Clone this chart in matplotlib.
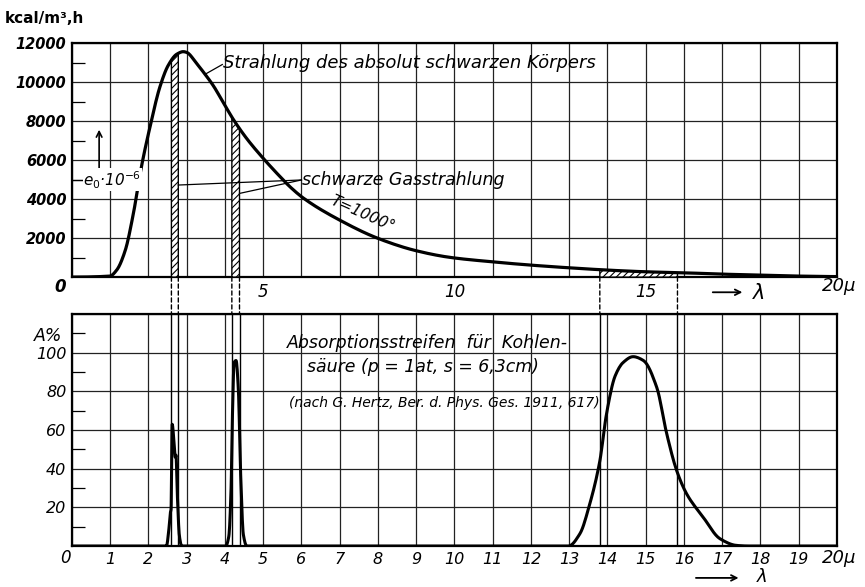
import numpy as np
import matplotlib
matplotlib.use("Agg")
import matplotlib.pyplot as plt
from matplotlib.patches import ConnectionPatch

# Strahlung des schwarzen Koerpers, T = 1000 grad
lam_bb = [0, 0.99, 1.17, 1.39, 1.60, 1.82, 2.04, 2.30, 2.52, 2.74, 2.91, 3.0, 3.26,
          3.48, 3.69, 4.0, 4.22, 4.57, 5.0, 5.44, 5.7, 6.05, 7.0, 8.0, 9.0, 9.88,
          10.97, 11.98, 12.98, 13.98, 14.98, 15.98, 17.0, 18.0, 19.0, 20.0]
e_bb = [0, 50, 360, 1350, 3200, 5700, 7700, 9760, 10870, 11430, 11560, 11520, 10950,
        10400, 9830, 8800, 8080, 7100, 6090, 5150, 4630, 4050, 2920, 1985, 1350, 1010,
        785, 615, 477, 360, 272, 220, 150, 100, 50, 25]

# Absorption CO2 in %
lam_co2 = [0, 2.47, 2.53, 2.57, 2.59, 2.62, 2.67, 2.70, 2.72, 2.75, 2.81, 2.87,
           4.02, 4.10, 4.16, 4.19, 4.24, 4.29, 4.35, 4.41, 4.48, 4.57,
           12.98, 13.28, 13.54, 13.8, 13.98, 14.2, 14.41, 14.67, 14.94, 15.29,
           15.55, 15.81, 16.07, 16.5, 16.94, 17.38, 17.7, 20]
a_co2 = [0, 0, 8, 17, 19, 63, 53, 46, 47, 29, 5, 0,
         0, 5, 30, 63, 95, 96, 81, 37, 6, 0,
         0, 6.4, 22, 44, 69, 88, 95, 98, 96, 82,
         58, 39, 27, 15, 3.8, 0.3, 0, 0]

# Streifen (schwarze Gasstrahlung)
band_lo = [2.60, 4.18, 13.8]
band_hi = [2.78, 4.38, 15.83]

top_ylabels = [0, 2000, 4000, 6000, 8000, 10000, 12000]
bot_ylabels = [20, 40, 60, 80, 100]


def pchip(x, y, n=12):
    x = np.asarray(x, float)
    y = np.asarray(y, float)
    h = np.diff(x)
    d = np.diff(y) / h
    m = np.zeros_like(y)
    for k in range(1, len(x) - 1):
        if d[k - 1] * d[k] > 0:
            w1 = 2 * h[k] + h[k - 1]
            w2 = h[k] + 2 * h[k - 1]
            m[k] = (w1 + w2) / (w1 / d[k - 1] + w2 / d[k])
    xs, ys = [], []
    for k in range(len(x) - 1):
        t = np.linspace(0, 1, n, endpoint=False)
        h00 = 2 * t**3 - 3 * t**2 + 1
        h10 = t**3 - 2 * t**2 + t
        h01 = -2 * t**3 + 3 * t**2
        h11 = t**3 - t**2
        xs.append(x[k] + t * h[k])
        ys.append(h00 * y[k] + h10 * h[k] * m[k] + h01 * y[k + 1] + h11 * h[k] * m[k + 1])
    xs.append([x[-1]])
    ys.append([y[-1]])
    return np.concatenate(xs), np.concatenate(ys)


plt.rcParams["font.family"] = ["DejaVu Sans"]
plt.rcParams["hatch.linewidth"] = 0.8
plt.rcParams["mathtext.fontset"] = "dejavusans"

fig = plt.figure(figsize=(8.65, 5.87), dpi=100)
ax1 = fig.add_axes([0.0832, 0.528, 0.8844, 0.3986])
ax2 = fig.add_axes([0.0832, 0.0698, 0.8844, 0.395])

grid_kw = dict(color="#222222", lw=0.9)

# ---- oben: schwarzer Koerper
bx, by = pchip(lam_bb, e_bb)
ax1.set_xlim(0, 20)
ax1.set_ylim(0, 12000)
ax1.set_xticks(range(21))
ax1.set_xticklabels(["5" if i == 5 else "10" if i == 10 else "15" if i == 15 else ""
                     for i in range(21)], style="italic", fontsize=12)
ax1.set_yticks(top_ylabels[1:])
ax1.set_yticklabels([str(v) for v in top_ylabels[1:]], style="italic",
                    fontweight="bold", fontsize=10.5)
ax1.set_yticks(range(1000, 12000, 2000), minor=True)
ax1.tick_params(axis="x", length=0, pad=4)
ax1.tick_params(axis="y", which="major", length=0, pad=4)
ax1.tick_params(axis="y", which="minor", direction="in", length=9, width=0.9)
ax1.grid(True, which="major", **grid_kw)
for s in ax1.spines.values():
    s.set_linewidth(1.6)

for lo, hi in zip(band_lo, band_hi):
    xs = np.linspace(lo, hi, 30)
    ax1.fill_between(xs, 0, np.interp(xs, bx, by), facecolor="white",
                     edgecolor="black", hatch="/////", lw=1.0, zorder=3)
ax1.plot(bx, by, color="black", lw=2.3, zorder=4, solid_capstyle="round")

ax1.text(-0.31, -520, "0", ha="center", va="center", style="italic",
         fontweight="bold", fontsize=12, clip_on=False)
ax1.text(19.6, -480, "20\u00b5", ha="left", va="center", style="italic",
         fontsize=13, clip_on=False)
ax1.annotate("", xy=(17.6, -780), xytext=(16.68, -780),
             arrowprops=dict(arrowstyle="->", lw=1.3, color="black"),
             annotation_clip=False)
ax1.text(17.8, -800, "\u03bb", ha="left", va="center", style="italic",
         fontsize=15, clip_on=False)

ax1.text(3.95, 11000, "Strahlung des absolut schwarzen K\u00f6rpers", style="italic",
         fontsize=13, ha="left", va="center", zorder=5)
ax1.plot([3.48, 3.93], [10400, 10900], color="black", lw=0.9, zorder=5)
ax1.text(6.02, 4980, "schwarze Gasstrahlung", style="italic", fontsize=12.5,
         ha="left", va="center", zorder=5)
ax1.plot([6.0, 2.78], [4980, 4720], color="black", lw=0.9, zorder=5)
ax1.plot([6.0, 4.38], [4980, 4290], color="black", lw=0.9, zorder=5)
ax1.text(7.6, 3250, "T=1000\u00b0", style="italic", fontsize=11, rotation=-24,
         ha="center", va="center", zorder=5)
ax1.text(0.3, 4980, "$e_0$\u00b710$^{-6}$", style="italic", fontsize=11,
         ha="left", va="center", zorder=5,
         bbox=dict(facecolor="white", edgecolor="none", pad=0.5))
ax1.plot([0, 0.28], [4980, 4980], color="black", lw=0.9)
ax1.annotate("", xy=(0.71, 7700), xytext=(0.71, 5450),
             arrowprops=dict(arrowstyle="->", lw=1.2, color="black"))

fig.text(0.006, 0.969, "kcal/m\u00b3,h", fontweight="bold", fontsize=11,
         ha="left", va="center")

# ---- unten: Absorption
ax2.set_xlim(0, 20)
ax2.set_ylim(0, 120)
ax2.set_xticks(range(21))
ax2.set_xticklabels([str(i) if 0 < i < 20 else "" for i in range(21)],
                    style="italic", fontsize=11.5)
ax2.set_yticks(bot_ylabels + [120])
ax2.set_yticklabels([str(v) for v in bot_ylabels] + [""], style="italic",
                    fontsize=11.5)
ax2.set_yticks(range(10, 120, 20), minor=True)
ax2.tick_params(axis="x", length=0, pad=4)
ax2.tick_params(axis="y", which="major", length=0, pad=4)
ax2.tick_params(axis="y", which="minor", direction="in", length=9, width=0.9)
ax2.grid(True, which="major", **grid_kw)
for s in ax2.spines.values():
    s.set_linewidth(1.6)

for lo, hi in zip(band_lo, band_hi):
    ax2.axvline(lo, color="black", lw=1.0)
    ax2.axvline(hi, color="black", lw=1.0)
    for x in (lo, hi):
        con = ConnectionPatch(xyA=(x, 0), coordsA=ax1.transData,
                              xyB=(x, 120), coordsB=ax2.transData,
                              ls=(0, (3, 2)), lw=1.0, color="black")
        fig.add_artist(con)

cx, cy = pchip(lam_co2, a_co2, n=8)
ax2.plot(cx, cy, color="black", lw=2.2, zorder=4)

ax2.text(-0.18, -6, "0", ha="center", va="center", style="italic", fontsize=12,
         clip_on=False)
ax2.text(19.6, -6, "20\u00b5", ha="left", va="center", style="italic",
         fontsize=13, clip_on=False)
ax2.annotate("", xy=(17.5, -16.5), xytext=(16.24, -16.5),
             arrowprops=dict(arrowstyle="->", lw=1.3, color="black"),
             annotation_clip=False)
ax2.text(17.9, -20.6, "\u03bb", ha="left", va="bottom", style="italic",
         fontsize=13, clip_on=False)
ax2.text(-0.25, 108.5, "A%", ha="right", va="center", style="italic",
         fontsize=12.5, clip_on=False)

ax2.text(9.28, 105, "Absorptionsstreifen  f\u00fcr  Kohlen-", style="italic",
         fontsize=12.5, ha="center", va="center")
ax2.text(9.18, 92.6, "s\u00e4ure (p = 1at, s = 6,3cm)", style="italic",
         fontsize=12.5, ha="center", va="center")
ax2.text(9.73, 74, "(nach G. Hertz, Ber. d. Phys. Ges. 1911, 617)", style="italic",
         fontsize=10, ha="center", va="center")

fig.savefig("out.png", dpi=100)
